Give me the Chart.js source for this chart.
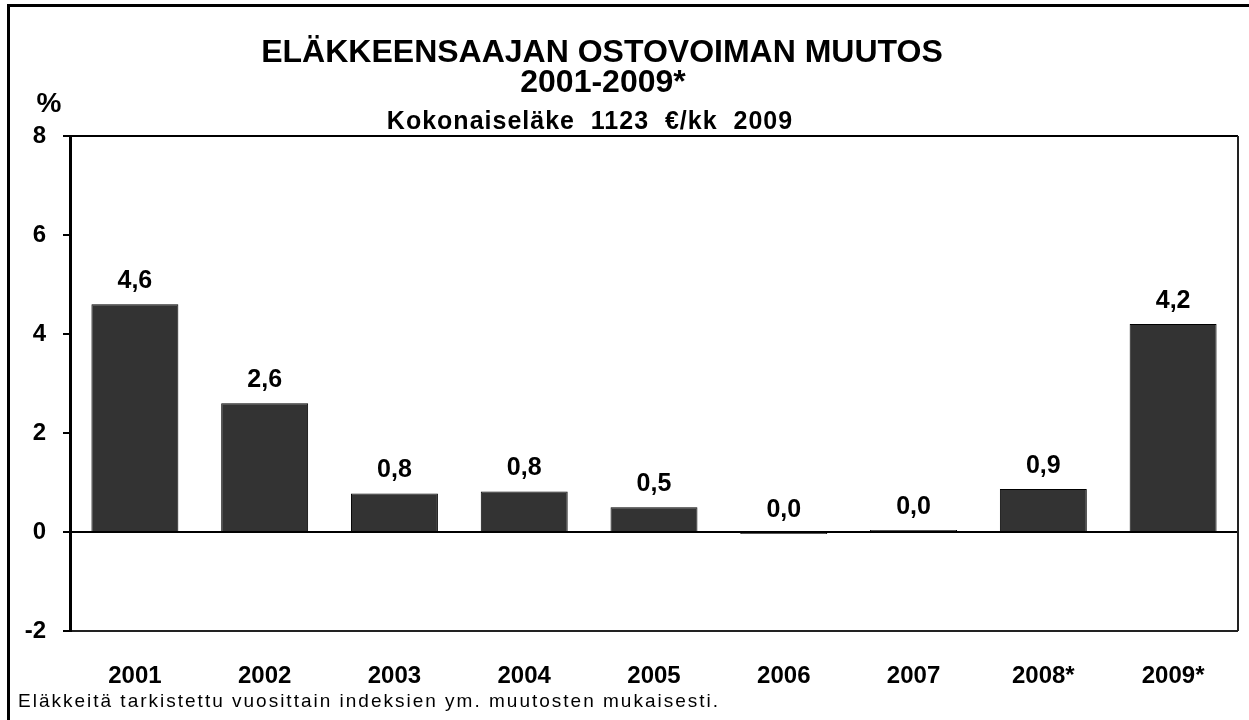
<!DOCTYPE html>
<html>
<head>
<meta charset="utf-8">
<script src="https://cdn.jsdelivr.net/npm/chart.js@4"></script>
<style>
  html, body { margin: 0; padding: 0; background: #fff; }
  #wrap { width: 1249px; height: 720px; position: relative; }
</style>
</head>
<body>
<div id="wrap"><canvas id="grafico" width="1249" height="720"></canvas></div>
<script>
const vuodet = ['2001', '2002', '2003', '2004', '2005', '2006', '2007', '2008*', '2009*']
const muutos = [4.6, 2.6, 0.78, 0.82, 0.5, -0.04, 0.04, 0.87, 4.2]
const yTicks = [-2, 0, 2, 4, 6, 8]

const otsikko = ['ELÄKKEENSAAJAN OSTOVOIMAN MUUTOS', '2001-2009*']
const alaotsikko = 'Kokonaiseläke  1123  €/kk  2009'
const yksikko = '%'
const alaviite = 'Eläkkeitä tarkistettu vuosittain indeksien ym. muutosten mukaisesti.'

const fontti = "'Liberation Sans', Arial, sans-serif"

const tekstit = {
    id: 'tekstit',
    beforeDraw(chart) {
        const ctx = chart.ctx
        ctx.save()
        // outer frame (right and bottom edges are outside the picture)
        ctx.strokeStyle = '#000'
        ctx.lineWidth = 3
        ctx.beginPath()
        ctx.moveTo(8.5, 730)
        ctx.lineTo(8.5, 5.5)
        ctx.lineTo(1260, 5.5)
        ctx.stroke()
        ctx.restore()
    },
    afterDraw(chart) {
        const ctx = chart.ctx
        const area = chart.chartArea
        ctx.save()
        ctx.fillStyle = '#000'
        ctx.textAlign = 'center'
        ctx.textBaseline = 'alphabetic'
        ctx.font = 'bold 32px ' + fontti
        ctx.fillText(otsikko[0], 602, 62)
        ctx.fillText(otsikko[1], 603, 92)
        ctx.font = 'bold 25px ' + fontti
        ctx.letterSpacing = '1px'
        ctx.fillText(alaotsikko, 590, 129)
        ctx.letterSpacing = '0px'
        ctx.font = 'bold 28px ' + fontti
        ctx.fillText(yksikko, 49, 112)
        ctx.textAlign = 'left'
        ctx.font = '19px ' + fontti
        ctx.letterSpacing = '2px'
        ctx.fillText(alaviite, 18, 707)
        ctx.letterSpacing = '0px'

        // right border of the plot area
        ctx.strokeStyle = '#222'
        ctx.lineWidth = 2
        ctx.beginPath()
        ctx.moveTo(area.right, area.top)
        ctx.lineTo(area.right, area.bottom)
        ctx.stroke()
        ctx.restore()
    },
    afterDatasetsDraw(chart) {
        const ctx = chart.ctx
        const meta = chart.getDatasetMeta(0)
        ctx.save()
        ctx.fillStyle = '#000'
        ctx.textAlign = 'center'
        ctx.textBaseline = 'alphabetic'
        ctx.font = 'bold 25px ' + fontti
        meta.data.forEach((bar, i) => {
            const arvo = Math.round(muutos[i] * 10) / 10
            const teksti = (arvo === 0 ? 0 : arvo).toFixed(1).replace('.', ',')
            const yla = Math.min(bar.y, bar.base)
            ctx.fillText(teksti, bar.x, yla - 16)
        })
        ctx.restore()
    }
}

window.onload = () => {
    let contexto = document.getElementById('grafico').getContext('2d')

    let grafico = new Chart(contexto, {
        type: 'bar',
        data: {
            labels: vuodet,
            datasets: [{
                data: muutos,
                backgroundColor: '#333333',
                borderColor: '#000000',
                borderWidth: 1,
                barPercentage: 0.67,
                categoryPercentage: 1.0
            }]
        },
        options: {
            responsive: false,
            animation: false,
            layout: { padding: { top: 136, right: 11, bottom: 0, left: 0 } },
            plugins: {
                legend: { display: false },
                title: { display: false },
                tooltip: { enabled: false }
            },
            scales: {
                x: {
                    grid: { display: false, drawTicks: false },
                    border: { display: false },
                    ticks: {
                        color: '#000',
                        padding: 31,
                        maxRotation: 0,
                        font: { family: fontti, size: 24, weight: 'bold' }
                    },
                    afterFit(scale) { scale.height = 89 }
                },
                y: {
                    min: -2,
                    max: 8,
                    afterBuildTicks(scale) {
                        scale.ticks = yTicks.map(v => ({ value: v }))
                    },
                    grid: {
                        drawTicks: true,
                        tickLength: 7,
                        lineWidth: 2,
                        tickColor: '#000',
                        tickWidth: 2,
                        color: ctx => {
                            const v = ctx.tick ? ctx.tick.value : null
                            if (v === 0 || v === 8) return '#000'
                            if (v === -2) return '#222'
                            return 'rgba(0,0,0,0)'
                        }
                    },
                    border: { display: true, color: '#000', width: 3 },
                    ticks: {
                        color: '#000',
                        padding: 17,
                        font: { family: fontti, size: 24, weight: 'bold' }
                    },
                    afterFit(scale) { scale.width = 70 }
                }
            }
        },
        plugins: [tekstit]
    })
}
</script>
</body>
</html>
